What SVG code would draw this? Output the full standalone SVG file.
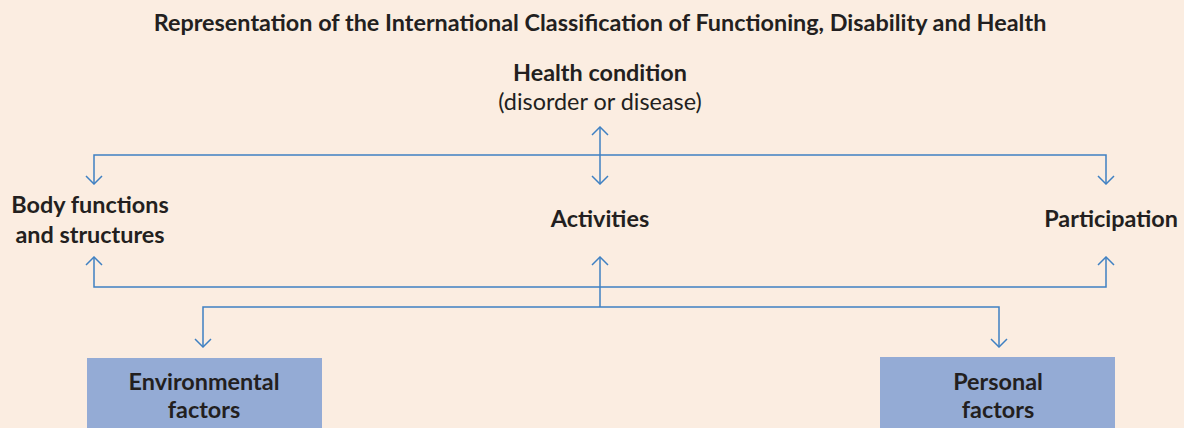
<svg xmlns="http://www.w3.org/2000/svg" width="1184" height="428" viewBox="0 0 1184 428">
  <style>
    .t { font-family: Lato, "Open Sans", "Liberation Sans", sans-serif; fill: #231f20; text-anchor: middle; }
    .b { font-weight: 700; font-size: 23.4px; }
    .r { font-weight: 400; font-size: 23.4px; }
    .title { font-weight: 700; font-size: 23.4px; }
    .ln { fill: none; stroke: #3f80c2; stroke-width: 1.5; }
    .box { fill: #94abd5; }
  </style>
  <defs>
    <!-- open chevron arrowhead, tip at the path end -->
    <marker id="ah" viewBox="0 0 10 18" refX="9" refY="9" markerWidth="10" markerHeight="18" markerUnits="userSpaceOnUse" orient="auto-start-reverse">
      <path d="M1,1 L9,9 L1,17" fill="none" stroke="#3f80c2" stroke-width="1.5"/>
    </marker>
  </defs>
  <rect width="1184" height="428" fill="#fbede1"/>

  <text class="t title" x="600" y="31">Representation of the International Classification of Functioning, Disability and Health</text>

  <g id="connectors">
    <!-- upper distribution line from health condition -->
    <path class="ln" d="M94,184 L94,155 L1106,155 L1106,184" marker-start="url(#ah)" marker-end="url(#ah)"/>
    <path class="ln" d="M600,127 L600,184" marker-start="url(#ah)" marker-end="url(#ah)"/>
    <!-- lower collection line from context factors -->
    <path class="ln" d="M94,257 L94,287 L1106,287 L1106,257" marker-start="url(#ah)" marker-end="url(#ah)"/>
    <path class="ln" d="M600,307 L600,257" marker-end="url(#ah)"/>
    <path class="ln" d="M203,347 L203,307 L999,307 L999,347" marker-start="url(#ah)" marker-end="url(#ah)"/>
  </g>

  <g id="health-condition">
    <text class="t b" x="600" y="81">Health condition</text>
    <text class="t r" x="600" y="110">(disorder or disease)</text>
  </g>

  <g id="body-functions">
    <text class="t b" x="90" y="213">Body functions</text>
    <text class="t b" x="90" y="243">and structures</text>
  </g>

  <g id="activities">
    <text class="t b" x="600" y="227">Activities</text>
  </g>

  <g id="participation">
    <text class="t b" x="1111" y="227">Participation</text>
  </g>

  <g id="environmental-factors">
    <rect class="box" x="87" y="358" width="235" height="72"/>
    <text class="t b" x="204" y="390">Environmental</text>
    <text class="t b" x="204" y="418">factors</text>
  </g>

  <g id="personal-factors">
    <rect class="box" x="880" y="357" width="235" height="73"/>
    <text class="t b" x="998" y="390">Personal</text>
    <text class="t b" x="998" y="418">factors</text>
  </g>
</svg>
